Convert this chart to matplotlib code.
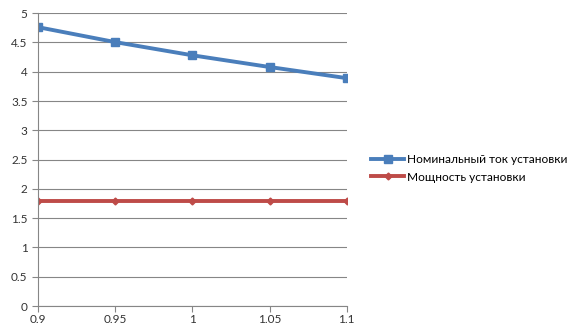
import numpy as np
from matplotlib import pyplot as plt

plt.rcParams['font.family'] = ['Lato', 'DejaVu Sans']

x_labels = ['0.9', '0.95', '1', '1.05', '1.1']
current = [4.76, 4.505, 4.28, 4.08, 3.89]      # номинальный ток
power = [1.8, 1.8, 1.8, 1.8, 1.8]               # мощность

fig = plt.figure(figsize=(5.76, 3.36), dpi=100)
ax = fig.add_axes([0.066, 0.089, 0.536, 0.872])

x = np.arange(len(x_labels))
ax.plot(x, current, color='#4a7ebb', lw=2.8, marker='s', ms=6,
        label='Номинальный ток установки')
ax.plot(x, power, color='#be4b48', lw=2.8, marker='D', ms=3.5,
        label='Мощность установки')

ax.set_xlim(0, len(x_labels) - 1)
ax.set_ylim(0, 5)
ax.set_yticks(np.arange(0, 5.01, 0.5))
ax.set_yticklabels(['0', '0.5', '1', '1.5', '2', '2.5', '3', '3.5', '4', '4.5', '5'])
ax.set_xticks(x)
ax.set_xticklabels(x_labels)
ax.tick_params(labelsize=8.5, colors='#868686', labelcolor='#333333', length=4, width=0.8)
ax.tick_params(axis='x', pad=2)

ax.yaxis.grid(True, color='#868686', lw=0.8)
ax.set_axisbelow(True)
for s in ['top', 'right']:
    ax.spines[s].set_visible(False)
for s in ['left', 'bottom']:
    ax.spines[s].set_color('#868686')
    ax.spines[s].set_linewidth(0.8)

ax.legend(loc='center left', bbox_to_anchor=(1.045, 0.47), frameon=False,
          fontsize=8.6, handlelength=2.7, labelspacing=0.55, handletextpad=0.25)

plt.savefig('out.png', dpi=100)
